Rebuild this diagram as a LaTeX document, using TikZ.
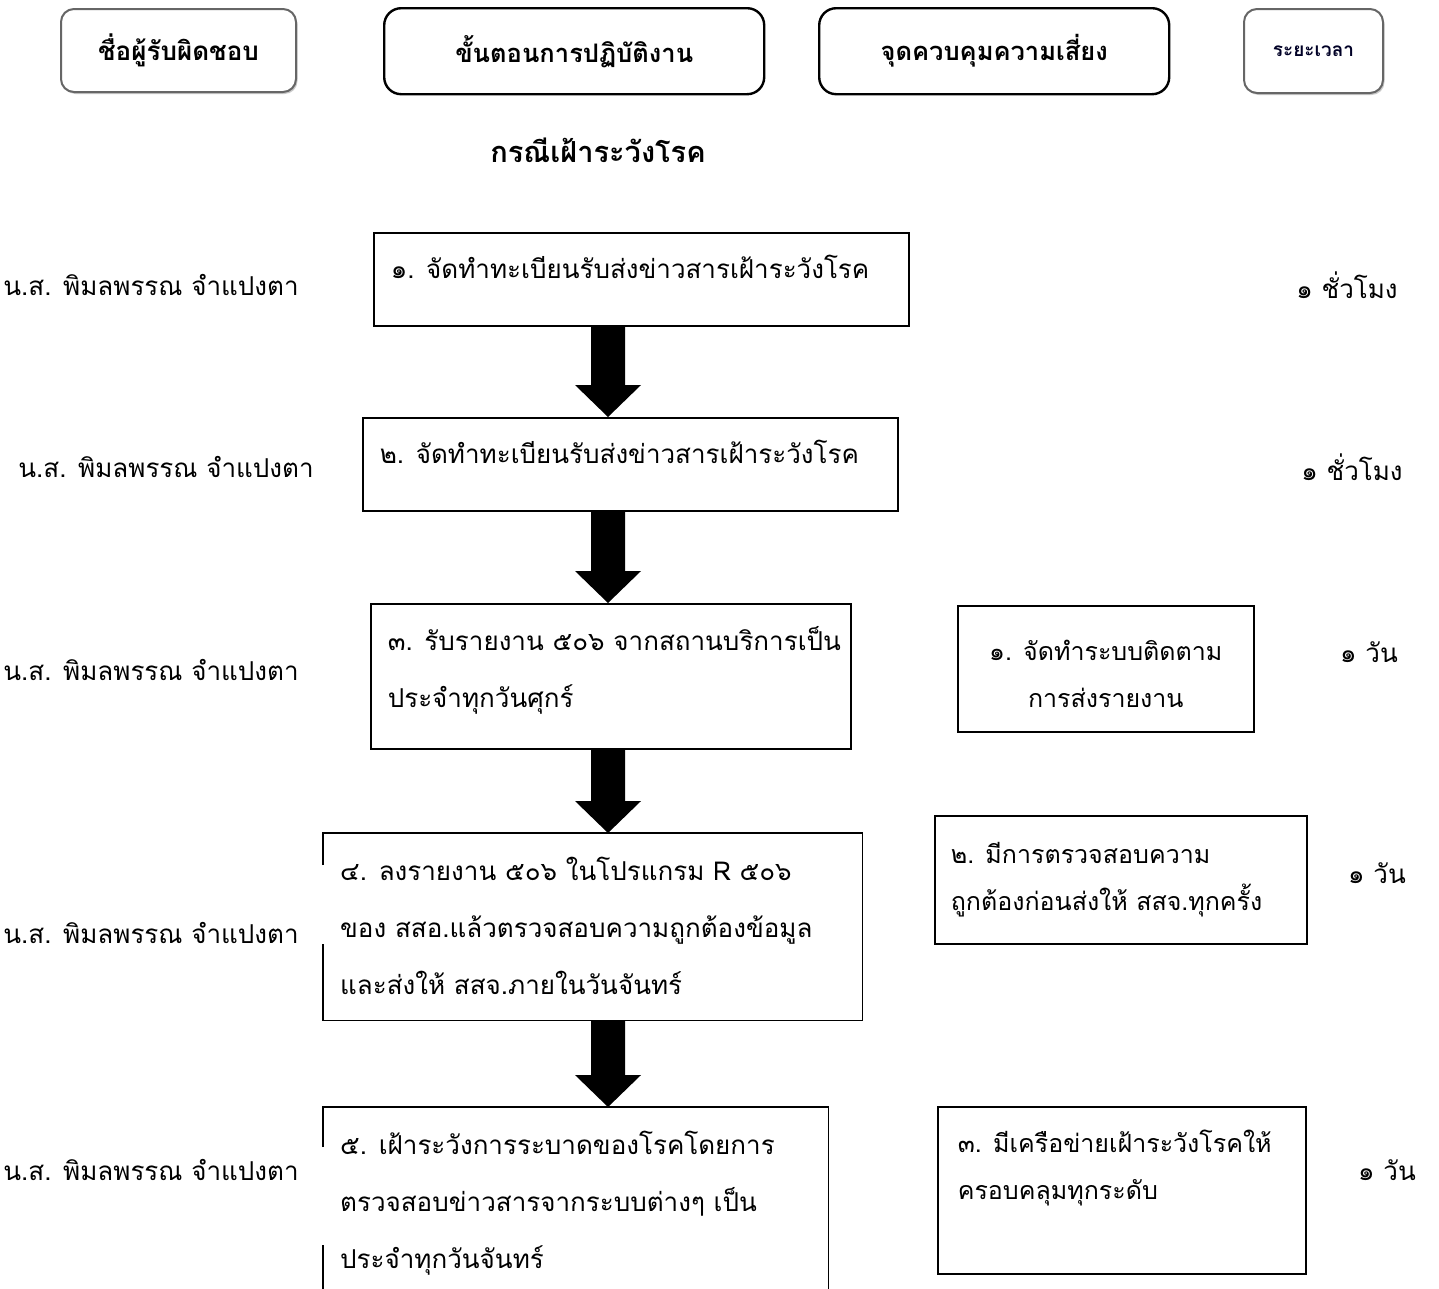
\documentclass[tikz,border=0pt]{standalone}
\usepackage{fontspec}
\setmainfont[Script=Thai]{Loma}
\usetikzlibrary{calc,shadows}
\newcommand\stxt[4]{\parbox[c][#2][t]{#1}{\raggedright\rule{0pt}{#3}#4}}
\newcommand\ctxt[4]{\parbox[c][#2][t]{#1}{\centering\rule{0pt}{#3}#4}}
\newcommand\bodyfont{\fontsize{26}{57}\selectfont}
\newcommand\cbfont{\fontsize{25}{47}\selectfont}
\newcommand\barrow[2]{%
  \fill[blockarrow] ($(ax |- #1.south)+(-17,0)$) -- ($(ax |- #1.south)+(17,0)$)
    -- ($(ax |- #2.north)+(17,-32)$) -- ($(ax |- #2.north)+(33,-32)$)
    -- (ax |- #2.north) -- ($(ax |- #2.north)+(-33,-32)$)
    -- ($(ax |- #2.north)+(-17,-32)$) -- cycle;}
\begin{document}
\begin{tikzpicture}[x=1pt,y=-1pt,
  hdrgray/.style={draw=black!60, line width=2pt, rounded corners=13pt, inner sep=0pt, anchor=north west, fill=white,
    drop shadow={shadow xshift=1.5pt, shadow yshift=-2pt, fill=black!35, opacity=0.6}},
  hdrblack/.style={draw=black, line width=2.4pt, rounded corners=17pt, inner sep=0pt, anchor=north west},
  stepbox/.style={draw=black, line width=1.6pt, inner ysep=0pt, inner xsep=17pt, anchor=north west},
  openbox/.style={inner ysep=0pt, inner xsep=17pt, anchor=north west},
  edge/.style={draw=black, line width=1.6pt},
  ctrlbox/.style={draw=black, line width=1.6pt, inner ysep=0pt, inner xsep=16pt, anchor=north west},
  who/.style={font=\fontsize{26}{30}\selectfont, anchor=center, inner sep=0pt},
  when/.style={font=\fontsize{26}{30}\selectfont, anchor=center, inner sep=0pt},
  blockarrow/.style={fill=black}
]
\useasboundingbox (0,0) rectangle (1439,1288);
\fill[white] (0,0) rectangle (1439,1288);

% header boxes
\node[hdrgray, minimum width=235, minimum height=83] (hA) at (60,8)
  {\fontsize{26}{30}\selectfont\bfseries ชื่อผู้รับผิดชอบ};
\node[hdrblack, minimum width=380, minimum height=86] (hB) at (383,7)
  {\fontsize{25.5}{30}\selectfont\bfseries ขั้นตอนการปฏิบัติงาน};
\node[hdrblack, minimum width=350, minimum height=86] (hC) at (818,7)
  {\fontsize{25.5}{30}\selectfont\bfseries จุดควบคุมความเสี่ยง};
\node[hdrgray, minimum width=139, minimum height=84] (hD) at (1243,8)
  {\fontsize{19}{22}\selectfont\bfseries\color{black!85!blue} ระยะเวลา};

% title
\node[inner sep=0pt] (title) at (598,150) {\fontsize{29}{34}\selectfont\bfseries กรณีเฝ้าระวังโรค};

% step boxes
\node[stepbox] (b1) at (373,232) {\bodyfont\stxt{501pt}{93pt}{46pt}{๑. จัดทำทะเบียนรับส่งข่าวสารเฝ้าระวังโรค}};
\node[stepbox] (b2) at (362,417) {\bodyfont\stxt{501pt}{93pt}{46pt}{๒. จัดทำทะเบียนรับส่งข่าวสารเฝ้าระวังโรค}};
\node[stepbox] (b3) at (370,603) {\bodyfont\stxt{446pt}{145pt}{47pt}{\mbox{๓. รับรายงาน ๕๐๖ จากสถานบริการเป็น}\\ประจำทุกวันศุกร์}};
\node[openbox] (b4) at (323,833) {\bodyfont\stxt{505pt}{187pt}{47pt}{\mbox{๔. ลงรายงาน ๕๐๖ ในโปรแกรม R ๕๐๖}\\\mbox{ของ สสอ.แล้วตรวจสอบความถูกต้องข้อมูล}\\และส่งให้ สสจ.ภายในวันจันทร์}};
\node[openbox] (b5) at (323,1107) {\bodyfont\stxt{471pt}{193pt}{47pt}{\mbox{๕. เฝ้าระวังการระบาดของโรคโดยการ}\\\mbox{ตรวจสอบข่าวสารจากระบบต่างๆ เป็น}\\ประจำทุกวันจันทร์}};

% box 4 outline with broken left edge
\draw[edge] ($(b4.north west)+(0,32)$) -- (b4.north west) -- (b4.north east) -- (b4.south east) -- (b4.south west) -- ($(b4.north west)+(0,111)$);
% box 5 outline (runs off the bottom), broken left edge
\coordinate (pagebottom) at (0,1290);
\draw[edge] ($(b5.north west)+(0,40)$) -- (b5.north west) -- (b5.north east) -- (b5.north east |- pagebottom);
\draw[edge] ($(b5.north west)+(0,138)$) -- (b5.north west |- pagebottom);

% block arrows
\coordinate (ax) at (608,0);
\barrow{b1}{b2}
\barrow{b2}{b3}
\barrow{b3}{b4}
\barrow{b4}{b5}

% control boxes
\node[ctrlbox] (c1) at (957,605) {\cbfont\ctxt{264pt}{126pt}{55pt}{๑. จัดทำระบบติดตาม\\การส่งรายงาน}};
\node[ctrlbox] (c2) at (934,815) {\cbfont\stxt{340pt}{128pt}{48pt}{๒. มีการตรวจสอบความ\\\mbox{ถูกต้องก่อนส่งให้ สสจ.ทุกครั้ง}}};
\node[ctrlbox, inner xsep=20pt] (c3) at (937,1106) {\cbfont\stxt{328pt}{167pt}{46pt}{\mbox{๓. มีเครือข่ายเฝ้าระวังโรคให้}\\ครอบคลุมทุกระดับ}};

% responsible persons
\node[who] (w1) at (151,285) {น.ส. พิมลพรรณ จำแปงตา};
\node[who] (w2) at (166,467) {น.ส. พิมลพรรณ จำแปงตา};
\node[who] (w3) at (151,670) {น.ส. พิมลพรรณ จำแปงตา};
\node[who] (w4) at (151,933) {น.ส. พิมลพรรณ จำแปงตา};
\node[who] (w5) at (151,1170) {น.ส. พิมลพรรณ จำแปงตา};

% durations
\node[when] (t1) at (1347,285) {๑ ชั่วโมง};
\node[when] (t2) at (1352,467) {๑ ชั่วโมง};
\node[when] (t3) at (1369,652) {๑ วัน};
\node[when] (t4) at (1377,873) {๑ วัน};
\node[when] (t5) at (1387,1170) {๑ วัน};
\end{tikzpicture}
\end{document}
